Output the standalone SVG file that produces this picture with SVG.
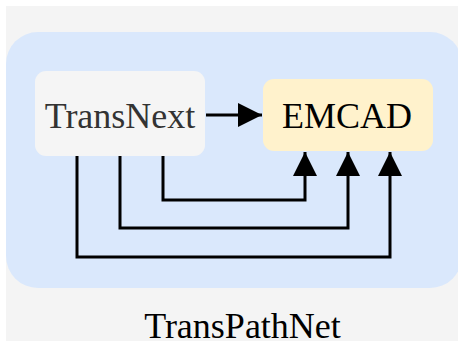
<svg xmlns="http://www.w3.org/2000/svg" width="458" height="342" viewBox="0 0 458 342">
  <style>
    .label { font-family: "Liberation Serif", "Times New Roman", serif; font-size: 36px; text-anchor: middle; }
    .wire { fill: none; stroke: #000; stroke-width: 3; }
  </style>
  <defs>
    <marker id="arrow" markerUnits="userSpaceOnUse" markerWidth="24" markerHeight="24" refX="24" refY="12" orient="auto">
      <path d="M0,0 L24,12 L0,24 Z" fill="#000"/>
    </marker>
  </defs>

  <!-- page background -->
  <rect x="6" y="6" width="452" height="335" fill="#f4f4f4"/>

  <!-- TransPathNet container -->
  <g id="transpathnet">
    <rect x="6" y="32" width="456" height="256" rx="32" ry="32" fill="#dae8fc"/>
    <text class="label" x="242.5" y="338" fill="#000">TransPathNet</text>
  </g>

  <g id="transnext">
    <rect x="35" y="71" width="170" height="85" rx="11" ry="11" fill="#f5f5f5"/>
    <text class="label" x="120" y="128" fill="#333333">TransNext</text>
  </g>

  <g id="emcad">
    <rect x="263" y="79" width="170" height="72" rx="11" ry="11" fill="#fff2cc"/>
    <text class="label" x="347" y="128" fill="#000">EMCAD</text>
  </g>

  <g id="connectors">
    <path class="wire" d="M206,115 L262,115" marker-end="url(#arrow)"/>
    <path class="wire" d="M163,156 L163,200 L305,200 L305,152" marker-end="url(#arrow)"/>
    <path class="wire" d="M120,156 L120,228 L348,228 L348,152" marker-end="url(#arrow)"/>
    <path class="wire" d="M77,156 L77,257 L390,257 L390,152" marker-end="url(#arrow)"/>
  </g>
</svg>
